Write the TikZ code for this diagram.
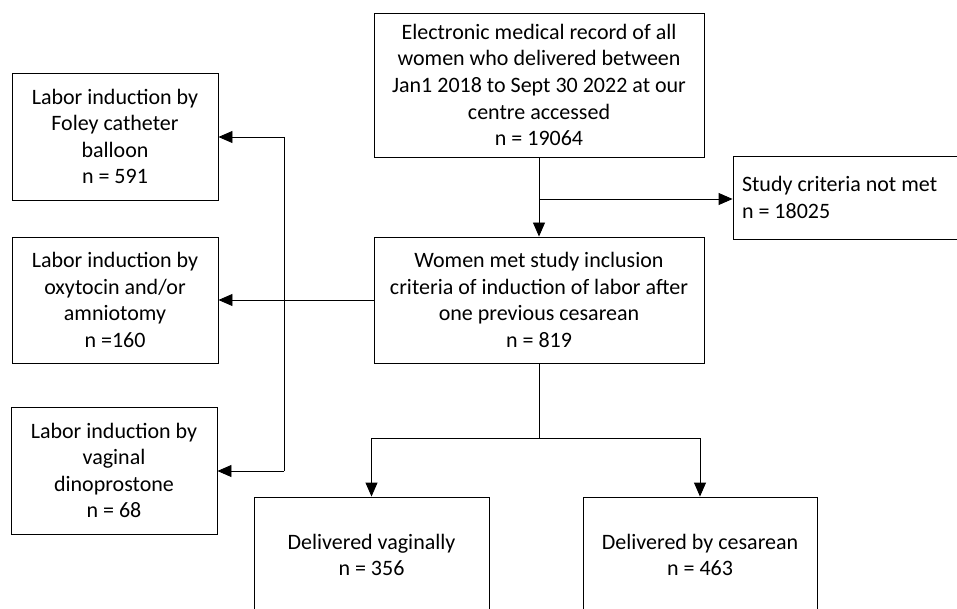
\documentclass[tikz,border=0pt]{standalone}
\usepackage{fontspec}
\setmainfont{Carlito}
\usetikzlibrary{arrows.meta,positioning}

\tikzset{
  box/.style={draw, line width=0.9pt, align=center, inner sep=0pt,
    font=\fontsize{22}{26.6}\selectfont},
  arr/.style={-{Triangle[length=14pt,width=12pt]}, line width=0.9pt},
  ln/.style={line width=0.9pt}
}

\begin{document}
\begin{tikzpicture}[x=1pt,y=-1pt]
  \useasboundingbox (0,0) rectangle (957,609);
  \clip (0,0) rectangle (957,609); % boxes at the edge are cut off
  % main column
  \node[box, minimum width=330pt, minimum height=144pt] (emr) at (539,85)
    {Electronic medical record of all\\women who delivered between\\Jan1 2018 to Sept 30 2022 at our\\centre accessed\\n = 19064};
  \node[box, minimum width=330pt, minimum height=126pt] (incl) at (539,300)
    {Women met study inclusion\\criteria of induction of labor after\\one previous cesarean\\n = 819};
  \node[box, align=flush left, text width=229pt, inner sep=9pt, minimum height=83pt] (crit) at (856.5,197.5)
    {Study criteria not met\\n = 18025};
  % induction methods
  \node[box, minimum width=206pt, minimum height=127pt] (foley) at (115,136.5)
    {Labor induction by\\Foley catheter\\balloon\\n = 591};
  \node[box, minimum width=206pt, minimum height=126pt] (oxy) at (115,300)
    {Labor induction by\\oxytocin and/or\\amniotomy\\n =160};
  \node[box, minimum width=206pt, minimum height=127pt] (dino) at (114,470.5)
    {Labor induction by\\vaginal\\dinoprostone\\n = 68};
  % outcomes
  \node[box, minimum width=235pt, minimum height=116pt] (vag) at (371.5,555)
    {Delivered vaginally\\n = 356};
  \node[box, minimum width=234pt, minimum height=116pt] (ces) at (700,555)
    {Delivered by cesarean\\n = 463};

  \coordinate (split1) at (539,199);
  \coordinate (spinetop) at (284,137);
  \coordinate (spinebot) at (284,471);
  \coordinate (split2) at (539,438);

  \draw[arr] (emr.south) -- (incl.north);       % included
  \draw[arr] (split1) -- (split1 -| crit.west); % excluded
  \draw[arr] (incl.west) -- (oxy.east);
  \draw[ln] (spinetop) -- (spinebot);
  \draw[arr] (spinetop) -- (foley.east |- spinetop);
  \draw[arr] (spinebot) -- (dino.east |- spinebot);
  \draw[ln] (incl.south) -- (split2);
  \draw[arr] (split2) -| (vag.north);
  \draw[arr] (split2) -| (ces.north);
\end{tikzpicture}
\end{document}
